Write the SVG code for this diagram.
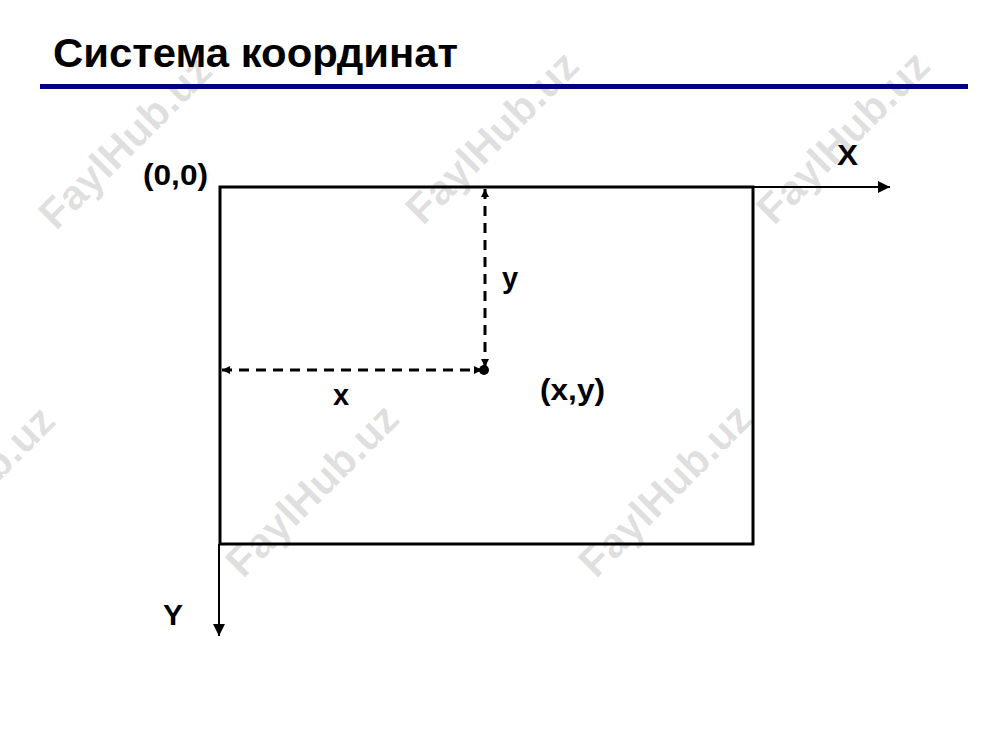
<svg xmlns="http://www.w3.org/2000/svg" width="1000" height="750" viewBox="0 0 1000 750">
<style>
.t{font-family:"Liberation Sans",Arial,sans-serif;font-weight:bold;fill:#000}
.l{font-size:29px}
.wm{font-family:"Liberation Sans",Arial,sans-serif;font-weight:bold;font-size:42px;fill:#000;fill-opacity:0.13;text-anchor:middle;dominant-baseline:central}
.ax{stroke:#000;stroke-width:2;fill:none}
.dash{stroke:#000;stroke-width:3;stroke-dasharray:10,7;fill:none}
</style>
<defs>
<marker id="ah" viewBox="0 0 10 10" refX="10" refY="5" markerWidth="8" markerHeight="8" markerUnits="userSpaceOnUse" orient="auto-start-reverse"><path d="M0,0L10,5L0,10z" fill="#000"/></marker>
<marker id="ax" viewBox="0 0 10 10" refX="10" refY="5" markerWidth="14" markerHeight="12" markerUnits="userSpaceOnUse" orient="auto"><path d="M0,0L10,5L0,10z" fill="#000"/></marker>
</defs>
<rect width="1000" height="750" fill="#fff"/>
<g id="watermarks">
<text class="wm" transform="translate(125,142) rotate(-45)">FaylHub.uz</text>
<text class="wm" transform="translate(492,137) rotate(-45)">FaylHub.uz</text>
<text class="wm" transform="translate(843,137) rotate(-45)">FaylHub.uz</text>
<text class="wm" transform="translate(-32,492) rotate(-45)">FaylHub.uz</text>
<text class="wm" transform="translate(312,490) rotate(-45)">FaylHub.uz</text>
<text class="wm" transform="translate(665,490) rotate(-45)">FaylHub.uz</text>
</g>
<g id="title">
<text class="t" x="53" y="67" font-size="40" textLength="405" lengthAdjust="spacingAndGlyphs">Система координат</text>
<rect x="40" y="84" width="928" height="5" fill="#000080"/>
</g>
<g id="frame">
<rect x="220" y="187" width="533" height="357" fill="none" stroke="#000" stroke-width="3"/>
</g>
<g id="connectors">
<line class="ax" x1="753" y1="187" x2="890" y2="187" marker-end="url(#ax)"/>
<line class="ax" x1="219" y1="544" x2="219" y2="636" marker-end="url(#ax)"/>
<line class="dash" x1="485" y1="189" x2="485" y2="367" marker-start="url(#ah)" marker-end="url(#ah)"/>
<line class="dash" x1="222" y1="370" x2="482" y2="370" marker-start="url(#ah)" marker-end="url(#ah)"/>
<circle cx="484" cy="370" r="5" fill="#000"/>
</g>
<g id="labels">
<text class="t l" x="143" y="185" textLength="65" lengthAdjust="spacingAndGlyphs">(0,0)</text>
<text class="t l" x="837" y="165" textLength="21" lengthAdjust="spacingAndGlyphs">X</text>
<text class="t l" x="163" y="625" textLength="20" lengthAdjust="spacingAndGlyphs">Y</text>
<text class="t l" x="502" y="288">y</text>
<text class="t l" x="333" y="405">x</text>
<text class="t l" x="540" y="400" textLength="65" lengthAdjust="spacingAndGlyphs">(x,y)</text>
</g>
</svg>
